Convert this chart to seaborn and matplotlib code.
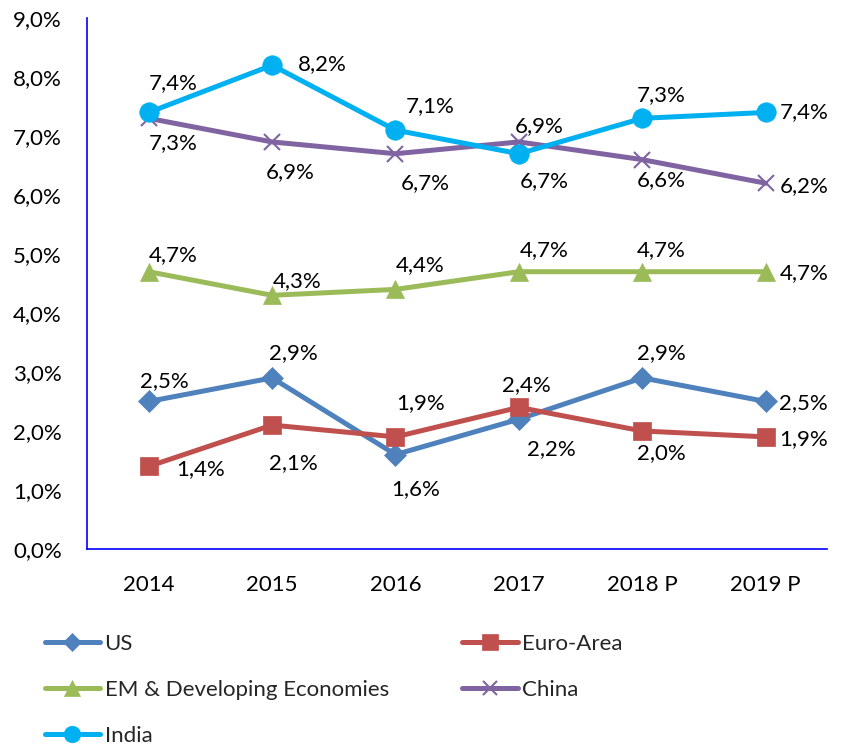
import matplotlib

matplotlib.use("agg")

import pandas as pd
import matplotlib.pyplot as plt
import seaborn as sns
from matplotlib.lines import Line2D

# Chart data (GDP growth, %)
years = ["2014", "2015", "2016", "2017", "2018 P", "2019 P"]
us = [2.5, 2.9, 1.6, 2.2, 2.9, 2.5]
euro_area = [1.4, 2.1, 1.9, 2.4, 2.0, 1.9]
em_developing = [4.7, 4.3, 4.4, 4.7, 4.7, 4.7]
china = [7.3, 6.9, 6.7, 6.9, 6.6, 6.2]
india = [7.4, 8.2, 7.1, 6.7, 7.3, 7.4]
series_names = ["US", "Euro-Area", "EM & Developing Economies", "China", "India"]
y_ticks = [0, 1, 2, 3, 4, 5, 6, 7, 8, 9]
y_tick_labels = ["0,0%", "1,0%", "2,0%", "3,0%", "4,0%", "5,0%", "6,0%", "7,0%", "8,0%", "9,0%"]

series_values = [us, euro_area, em_developing, china, india]
colors = ["#4F81BD", "#C0504D", "#9BBB59", "#8064A2", "#00B0F0"]
markers = ["D", "s", "^", "x", "o"]
marker_sizes = [11, 13, 13, 12, 14]

# label offsets (pixels) for each data label, per series
label_offsets = [
    [(16, 20), (21, 25), (20, -35), (32, -30), (19, 25), (38, -2)],
    [(52, -3), (21, -38), (25, 34), (7, 22), (19, -22), (38, -2)],
    [(25, 17), (25, 14), (25, 24), (25, 22), (19, 22), (38, -1)],
    [(25, -25), (18, -30), (30, -29), (20, 16), (19, -20), (38, -3)],
    [(25, 29), (50, 1), (35, 24), (25, -27), (19, 23), (38, 0)],
]

sns.set_theme(style="white")
plt.rcParams["font.family"] = ["Lato", "DejaVu Sans"]
FS = 16

df = pd.DataFrame(
    [
        {"Year": y, "x": i, "Value": v, "Series": name}
        for name, vals in zip(series_names, series_values)
        for i, (y, v) in enumerate(zip(years, vals))
    ]
)

fig = plt.figure(figsize=(8.56, 7.52), dpi=100)
ax = fig.add_axes([0.1016, 0.27, 0.865, 0.706])

for name, color, marker, ms in zip(series_names, colors, markers, marker_sizes):
    sub = df[df["Series"] == name]
    sns.lineplot(
        data=sub, x="x", y="Value", ax=ax, color=color, linewidth=3.6,
        marker=marker, markersize=ms, markeredgecolor=color,
        markeredgewidth=1.5 if marker == "x" else 0.5, legend=False,
    )

# data labels
for vals, offs in zip(series_values, label_offsets):
    for i, (v, off) in enumerate(zip(vals, offs)):
        ax.annotate(
            f"{v:.1f}%".replace(".", ","), xy=(i, v), xytext=off,
            textcoords="offset pixels", ha="center", va="center",
            fontsize=FS, color="black",
        )

ax.set_xlim(-0.5, len(years) - 0.5)
ax.set_ylim(0, 9)
ax.set_xticks(range(len(years)))
ax.set_xticklabels(years)
ax.set_yticks(y_ticks)
ax.set_yticklabels(y_tick_labels)
ax.tick_params(axis="both", length=0, labelsize=FS, colors="black")
ax.tick_params(axis="y", pad=18)
ax.tick_params(axis="x", pad=19)
ax.set_xlabel("")
ax.set_ylabel("")
ax.grid(False)

for side in ["top", "right"]:
    ax.spines[side].set_visible(False)
for side in ["left", "bottom"]:
    ax.spines[side].set_color("#0000FF")
    ax.spines[side].set_linewidth(1.2)

# legend, filled row-wise like the original
handles = [
    Line2D([], [], color=c, linewidth=3.6, marker=m, markersize=ms * 0.85,
           markeredgecolor=c, markeredgewidth=1.5 if m == "x" else 0.5)
    for c, m, ms in zip(colors, markers, marker_sizes)
]
order = [0, 2, 4, 1, 3]
fig.legend(
    [handles[i] for i in order], [series_names[i] for i in order],
    loc="upper left", bbox_to_anchor=(0.052, 0.157), ncol=2, frameon=False,
    fontsize=FS, handlelength=2.5, handletextpad=0.2, columnspacing=3.3,
    labelspacing=1.17, borderpad=0, borderaxespad=0,
)

plt.savefig("out.png", dpi=100)
